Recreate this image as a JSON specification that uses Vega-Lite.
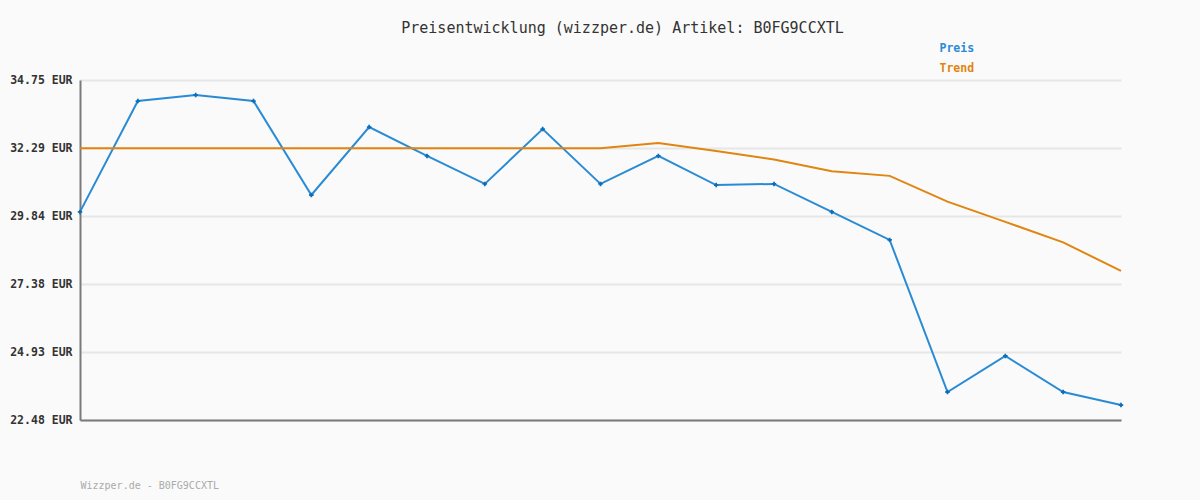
{
  "$schema": "https://vega.github.io/schema/vega-lite/v6.json",
  "width": 1041,
  "height": 340,
  "autosize": {"type": "none"},
  "padding": {"left": 80, "top": 80, "right": 79, "bottom": 80},
  "background": "#fafafa",
  "config": {"view": {"stroke": null}},
  "title": {
    "text": "Preisentwicklung (wizzper.de) Artikel: B0FG9CCXTL",
    "font": "DejaVu Sans Mono",
    "fontSize": 15,
    "fontWeight": "normal",
    "color": "#333333",
    "anchor": "middle",
    "dx": 22,
    "offset": 7
  },
  "data": {
    "values": [
      {"i": 0, "series": "Preis", "value": 29.99},
      {"i": 1, "series": "Preis", "value": 33.99},
      {"i": 2, "series": "Preis", "value": 34.21},
      {"i": 3, "series": "Preis", "value": 33.99},
      {"i": 4, "series": "Preis", "value": 30.60},
      {"i": 5, "series": "Preis", "value": 33.05},
      {"i": 6, "series": "Preis", "value": 32.01},
      {"i": 7, "series": "Preis", "value": 31.00},
      {"i": 8, "series": "Preis", "value": 32.98},
      {"i": 9, "series": "Preis", "value": 31.00},
      {"i": 10, "series": "Preis", "value": 32.01},
      {"i": 11, "series": "Preis", "value": 30.96},
      {"i": 12, "series": "Preis", "value": 31.00},
      {"i": 13, "series": "Preis", "value": 29.99},
      {"i": 14, "series": "Preis", "value": 28.98},
      {"i": 15, "series": "Preis", "value": 23.49},
      {"i": 16, "series": "Preis", "value": 24.79},
      {"i": 17, "series": "Preis", "value": 23.49},
      {"i": 18, "series": "Preis", "value": 23.02},
      {"i": 0, "series": "Trend", "value": 32.29},
      {"i": 1, "series": "Trend", "value": 32.29},
      {"i": 2, "series": "Trend", "value": 32.29},
      {"i": 3, "series": "Trend", "value": 32.29},
      {"i": 4, "series": "Trend", "value": 32.29},
      {"i": 5, "series": "Trend", "value": 32.29},
      {"i": 6, "series": "Trend", "value": 32.29},
      {"i": 7, "series": "Trend", "value": 32.29},
      {"i": 8, "series": "Trend", "value": 32.29},
      {"i": 9, "series": "Trend", "value": 32.29},
      {"i": 10, "series": "Trend", "value": 32.48},
      {"i": 11, "series": "Trend", "value": 32.19},
      {"i": 12, "series": "Trend", "value": 31.88},
      {"i": 13, "series": "Trend", "value": 31.46},
      {"i": 14, "series": "Trend", "value": 31.29},
      {"i": 15, "series": "Trend", "value": 30.36},
      {"i": 16, "series": "Trend", "value": 29.63},
      {"i": 17, "series": "Trend", "value": 28.89},
      {"i": 18, "series": "Trend", "value": 27.86}
    ]
  },
  "encoding": {
    "x": {
      "field": "i",
      "type": "quantitative",
      "scale": {"domain": [0, 18], "nice": false, "zero": false},
      "axis": {
        "labels": false,
        "ticks": false,
        "grid": false,
        "domainColor": "#7a7a7a",
        "domainWidth": 2,
        "title": "Wizzper.de - B0FG9CCXTL",
        "titleAnchor": "start",
        "titleAlign": "left",
        "titleFont": "DejaVu Sans Mono",
        "titleFontSize": 10,
        "titleFontWeight": "normal",
        "titleColor": "#aaaaaa",
        "titlePadding": 60
      }
    },
    "y": {
      "field": "value",
      "type": "quantitative",
      "scale": {"domain": [22.48, 34.75], "nice": false, "zero": false},
      "axis": {
        "values": [22.48, 24.93, 27.38, 29.84, 32.29, 34.75],
        "labelExpr": "format(datum.value, '.2f') + ' EUR'",
        "ticks": false,
        "labelPadding": 8,
        "labelFont": "DejaVu Sans Mono",
        "labelFontSize": 11.5,
        "labelFontWeight": "bold",
        "labelColor": "#333333",
        "domainColor": "#7a7a7a",
        "domainWidth": 2,
        "gridColor": "#e6e6e6",
        "gridWidth": 2,
        "title": null
      }
    }
  },
  "layer": [
    {
      "mark": {"type": "line", "strokeWidth": 2},
      "encoding": {
        "color": {
          "field": "series",
          "type": "nominal",
          "scale": {"domain": ["Preis", "Trend"], "range": ["#2a8bd5", "#e0850f"]},
          "legend": {
            "orient": "none",
            "legendX": 848,
            "legendY": -37,
            "title": null,
            "symbolSize": 0,
            "symbolOpacity": 0,
            "symbolStrokeWidth": 0,
            "labelOffset": 0,
            "labelFont": "DejaVu Sans Mono",
            "labelFontSize": 11.5,
            "labelFontWeight": "bold",
            "labelLimit": 0,
            "rowPadding": 7,
            "encode": {"labels": {"update": {"fill": {"scale": "color", "field": "value"}}}}
          }
        }
      }
    },
    {
      "transform": [{"filter": "datum.series === 'Preis'"}],
      "mark": {"type": "point", "shape": "cross", "filled": true, "size": 20, "opacity": 1},
      "encoding": {"color": {"value": "#0a6fb8"}}
    }
  ]
}
